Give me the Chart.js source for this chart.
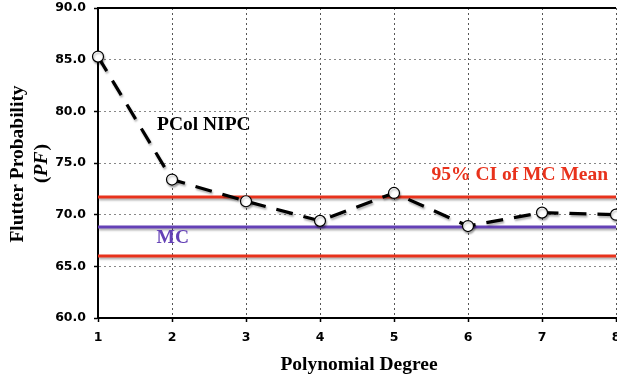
<!DOCTYPE html>
<html>
<head>
<meta charset="utf-8">
<script src="https://cdn.jsdelivr.net/npm/chart.js@4.4.1/dist/chart.umd.min.js"></script>
<style>
  html, body { margin: 0; padding: 0; background: #fff; }
  #wrap { width: 617px; height: 381px; position: relative; }
</style>
</head>
<body>
<div id="wrap"><canvas id="flutterChart"></canvas></div>
<script>
// Polynomial degree vs. flutter probability
const degrees = ['1', '2', '3', '4', '5', '6', '7', '8'];
const pcolNipc = [85.3, 73.4, 71.3, 69.4, 72.1, 68.9, 70.2, 70.0];
const mcMean = 68.8;
const ciLower = 66.0;
const ciUpper = 71.7;
const yTicks = [60, 65, 70, 75, 80, 85, 90];

const RED = '#e8321c';
const PURPLE = '#6441b6';
const SERIF = '"Liberation Serif", "Times New Roman", serif';

// soft drop shadow under every line and marker
const shadowPlugin = {
    id: 'shadow',
    beforeDatasetDraw(chart) {
        const ctx = chart.ctx;
        ctx.save();
        ctx.shadowColor = 'rgba(0,0,0,0.3)';
        ctx.shadowOffsetX = 1;
        ctx.shadowOffsetY = 2;
        ctx.shadowBlur = 2;
    },
    afterDatasetDraw(chart) {
        chart.ctx.restore();
    }
};

// axis titles, inline labels and the top rule
const textPlugin = {
    id: 'chartText',
    afterDraw(chart) {
        const { ctx, chartArea, scales: { x, y } } = chart;
        ctx.save();

        ctx.strokeStyle = '#000';
        ctx.lineWidth = 2;
        ctx.beginPath();
        ctx.moveTo(chartArea.left, chartArea.top);
        ctx.lineTo(chartArea.right, chartArea.top);
        ctx.stroke();

        ctx.textAlign = 'center';
        ctx.textBaseline = 'middle';
        ctx.font = 'bold 19.5px ' + SERIF;

        ctx.fillStyle = '#000';
        ctx.fillText('Polynomial Degree', (chartArea.left + chartArea.right) / 2 + 2, 365);

        ctx.fillText('PCol NIPC', x.getPixelForValue(1.43), y.getPixelForValue(78.7));
        ctx.fillStyle = RED;
        ctx.fillText('95% CI of MC Mean', x.getPixelForValue(5.70), y.getPixelForValue(73.8));
        ctx.fillStyle = PURPLE;
        ctx.fillText('MC', x.getPixelForValue(1.01), y.getPixelForValue(67.7));

        // rotated y title, second line has italic PF
        ctx.fillStyle = '#000';
        ctx.translate(18, 164);
        ctx.rotate(-Math.PI / 2);
        ctx.fillText('Flutter Probability', 0, 0);
        const bold = 'bold 19.5px ' + SERIF;
        const italic = 'italic bold 19.5px ' + SERIF;
        ctx.font = bold;
        const wOpen = ctx.measureText('(').width;
        const wClose = ctx.measureText(')').width;
        ctx.font = italic;
        const wPF = ctx.measureText('PF').width;
        let cx = -(wOpen + wPF + wClose) / 2;
        ctx.textAlign = 'left';
        ctx.font = bold;
        ctx.fillText('(', cx, 24);
        cx += wOpen;
        ctx.font = italic;
        ctx.fillText('PF', cx, 24);
        cx += wPF + 1;
        ctx.font = bold;
        ctx.fillText(')', cx, 24);

        ctx.restore();
    }
};

const tickFont = { family: '"DejaVu Sans", Verdana, sans-serif', size: 12.5, weight: 'bold' };

new Chart(document.getElementById('flutterChart'), {
    type: 'line',
    data: {
        labels: degrees,
        datasets: [
            {
                label: 'PCol NIPC',
                data: pcolNipc,
                borderColor: '#000',
                borderWidth: 3.2,
                borderDash: [17, 11],
                tension: 0,
                pointRadius: 5.5,
                pointBackgroundColor: '#fff',
                pointBorderColor: '#000',
                pointBorderWidth: 1.2
            },
            {
                label: 'MC',
                data: degrees.map(() => mcMean),
                borderColor: PURPLE,
                borderWidth: 3,
                pointRadius: 0
            },
            {
                label: '95% CI upper',
                data: degrees.map(() => ciUpper),
                borderColor: RED,
                borderWidth: 3,
                pointRadius: 0
            },
            {
                label: '95% CI lower',
                data: degrees.map(() => ciLower),
                borderColor: RED,
                borderWidth: 3,
                pointRadius: 0
            }
        ]
    },
    options: {
        responsive: true,
        maintainAspectRatio: false,
        animation: false,
        layout: { autoPadding: false, padding: { top: 8, right: 1, left: 0, bottom: 0 } },
        plugins: {
            legend: { display: false },
            tooltip: { enabled: false }
        },
        scales: {
            x: {
                offset: false,
                grid: {
                    color: '#555',
                    lineWidth: 1,
                    tickLength: 4,
                    tickColor: '#000',
                    tickWidth: 1.5
                },
                border: { display: true, color: '#000', width: 2, dash: [2, 3] },
                ticks: { color: '#000', font: tickFont, padding: 8, maxRotation: 0, autoSkip: false },
                afterFit(scale) {
                    scale.height = 63;
                    scale.paddingLeft = 0;
                    scale.paddingRight = 0;
                }
            },
            y: {
                min: 60,
                max: 90,
                afterBuildTicks(scale) {
                    scale.ticks = yTicks.map(v => ({ value: v }));
                },
                grid: {
                    color: '#888',
                    lineWidth: 1,
                    tickLength: 4,
                    tickColor: '#000',
                    tickWidth: 1.5
                },
                border: { display: true, color: '#000', width: 2, dash: [2, 3] },
                ticks: {
                    color: '#000',
                    font: tickFont,
                    padding: 8,
                    callback: v => v.toFixed(1)
                },
                afterFit(scale) {
                    scale.width = 98;
                    scale.paddingTop = 0;
                }
            }
        }
    },
    plugins: [shadowPlugin, textPlugin]
});
</script>
</body>
</html>
